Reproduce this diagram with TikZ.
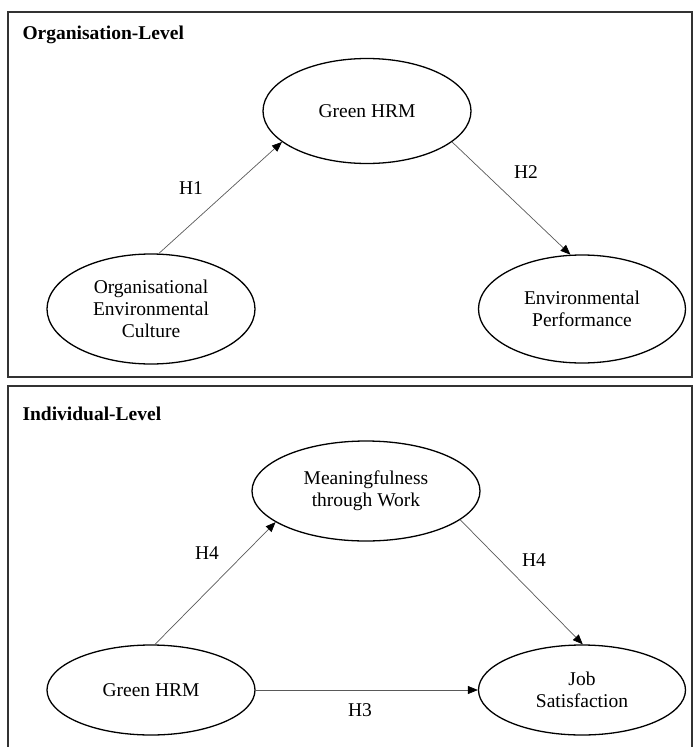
\documentclass[tikz,border=0pt]{standalone}
\usepackage{fontspec}
\setmainfont{Liberation Serif}
\usetikzlibrary{shapes.geometric,arrows.meta}

\tikzset{
  construct/.style={draw=black,line width=1.3pt,ellipse,inner sep=0pt,align=center},
  path arrow/.style={draw=black!65,line width=0.7pt,-{Triangle[length=10pt,width=8pt,color=black]}},
  level box/.style={draw=black!80,line width=1.4pt},
}

\begin{document}
\begin{tikzpicture}[x=1pt,y=-1pt,font=\fontsize{19.5}{22}\selectfont]
  \useasboundingbox (0,0) rectangle (698,747);
  % organisation level
  \draw[level box] (8,12) rectangle (692,377);
  \node[anchor=base west] (orgtitle) at (19,39) {\textbf{Organisation-Level}};
  \node[construct,minimum width=208,minimum height=105] (ghrm) at (367,111) {Green HRM};
  \node[construct,minimum width=208,minimum height=110] (oec) at (151,309) {Organisational\\Environmental\\Culture};
  \node[construct,minimum width=207,minimum height=108] (envp) at (582,309) {Environmental\\Performance};
  \draw[path arrow] (oec.82) -- (ghrm.200);
  \draw[path arrow] (ghrm.340) -- (envp.102);
  \node (h1) at (191,188) {H1};
  \node (h2) at (526,172) {H2};
  % individual level
  \draw[level box] (692,760) -- (692,386) -- (8,386) -- (8,760);
  \node[anchor=base west] (indtitle) at (19,420) {\textbf{Individual-Level}};
  \node[construct,minimum width=228,minimum height=100] (mtw) at (366,491) {Meaningfulness\\through Work};
  \node[construct,minimum width=208,minimum height=90] (ghrmi) at (151,690) {Green HRM};
  \node[construct,minimum width=207,minimum height=90] (jobs) at (582,690) {Job\\Satisfaction};
  \draw[path arrow] (ghrmi.85) -- (mtw.199);
  \draw[path arrow] (mtw.343) -- (jobs.89);
  \draw[path arrow] (ghrmi.east) -- (jobs.west);
  \node (h4a) at (207,553) {H4};
  \node (h4b) at (534,560) {H4};
  \node (h3) at (360,710) {H3};
\end{tikzpicture}
\end{document}
